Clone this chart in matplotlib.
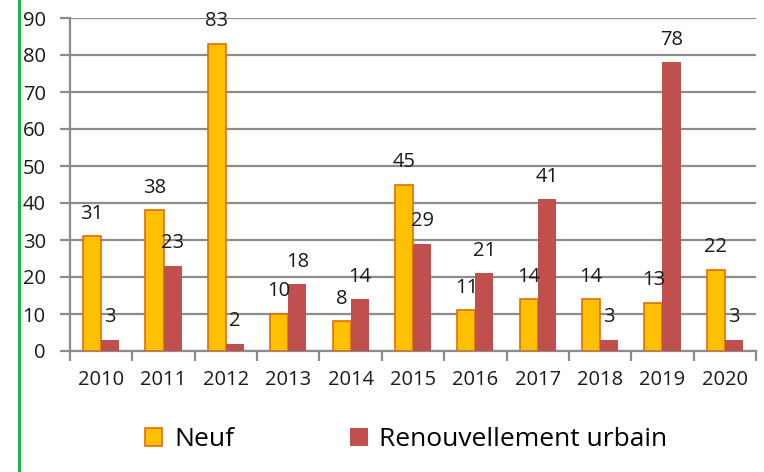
import matplotlib
matplotlib.use('Agg')
import matplotlib.pyplot as plt
import numpy as np
from matplotlib.lines import Line2D

years = ['2010', '2011', '2012', '2013', '2014', '2015', '2016', '2017', '2018', '2019', '2020']
neuf = [31, 38, 83, 10, 8, 45, 11, 14, 14, 13, 22]
renouvellement = [3, 23, 2, 18, 14, 29, 21, 41, 3, 78, 3]

plt.rcParams['font.family'] = ['Open Sans', 'DejaVu Sans']

fig = plt.figure(figsize=(7.64, 4.72), dpi=100)
ax = fig.add_axes([70 / 764, 1 - 351 / 472, 686 / 764, 333 / 472])

x = np.arange(len(years))
w = 0.29
grid_col = '#8c8c8c'

b1 = ax.bar(x - w / 2, neuf, w, color='#FFC000', edgecolor='#E46C0A', linewidth=1.2,
            label='Neuf', zorder=3)
b2 = ax.bar(x + w / 2, renouvellement, w, color='#C0504D', label='Renouvellement urbain',
            zorder=3)

for bars, vals in ((b1, neuf), (b2, renouvellement)):
    for rect, v in zip(bars, vals):
        ax.annotate(str(v), (rect.get_x() + rect.get_width() / 2, v),
                    xytext=(0, 9), textcoords='offset points',
                    ha='center', va='bottom', fontsize=14.5, color='#1a1a1a', zorder=4)

ax.set_xlim(-0.5, len(years) - 0.5)
ax.set_ylim(0, 90)
ax.set_yticks(range(0, 91, 10))
ax.yaxis.grid(True, color=grid_col, linewidth=1.6, zorder=0)
ax.set_axisbelow(True)

ax.set_xticks(x)
ax.set_xticklabels(years)
ax.set_xticks(np.arange(-0.5, len(years)), minor=True)
ax.tick_params(axis='x', which='major', length=0, pad=14, labelsize=14.5, colors='#1a1a1a')
ax.tick_params(axis='x', which='minor', length=7, width=1.6, color=grid_col)
ax.tick_params(axis='y', length=7, width=1.6, color=grid_col, pad=10.5, labelsize=14.5,
               labelcolor='#1a1a1a')

for side in ('top', 'right'):
    ax.spines[side].set_visible(False)
for side in ('left', 'bottom'):
    ax.spines[side].set_color(grid_col)
    ax.spines[side].set_linewidth(1.6)

leg = fig.legend(handles=[b1, b2], loc='center', bbox_to_anchor=(0.532, 1 - 440 / 472),
                 ncol=2, frameon=False, fontsize=19, handlelength=0.65, handleheight=0.65,
                 handletextpad=0.45, columnspacing=4.4)

# green rule down the left edge
fig.add_artist(Line2D([18.5 / 764, 18.5 / 764], [0, 1], color='#22b14c', linewidth=2.2))

fig.savefig('out.png', dpi=100)
